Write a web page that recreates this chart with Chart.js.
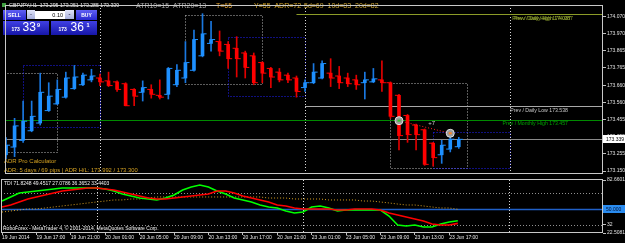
<!DOCTYPE html>
<html>
<head>
<meta charset="utf-8">
<title>GBPJPY,H1</title>
<script src="https://cdn.jsdelivr.net/npm/chart.js@4.4.1/dist/chart.umd.min.js"></script>
<style>
  body { margin: 0; background: #000; width: 625px; height: 243px; overflow: hidden; position: relative; }
  canvas { position: absolute; left: 0; }
  #priceChart { top: 0; }
  #tdiChart { top: 176px; }
</style>
</head>
<body>
<canvas id="priceChart" width="625" height="178"></canvas>
<canvas id="tdiChart" width="625" height="67"></canvas>
<script>
// H1 bars, index 0 = 19 Jun 13:00 ... index 53 = 23 Jun 18:00
var opens  = [173.247, 173.293, 173.333, 173.390, 173.436, 173.510, 173.550, 173.590, 173.641, 173.664,
              173.693, 173.704, 173.687, 173.681, 173.670, 173.636, 173.619, 173.636, 173.601, 173.607,
              173.664, 173.704, 173.750, 173.836, 173.910, 173.921, 173.904, 173.881, 173.853, 173.836,
              173.796, 173.761, 173.739, 173.721, 173.704, 173.647, 173.676, 173.704, 173.733, 173.716,
              173.704, 173.693, 173.676, 173.681, 173.693, 173.676, 173.601, 173.481, 173.424, 173.396,
              173.316, 173.247, 173.281, 173.295];
var highs  = [173.350, 173.464, 173.567, 173.567, 173.733, 173.676, 173.693, 173.739, 173.779, 173.733,
              173.756, 173.727, 173.739, 173.687, 173.676, 173.641, 173.687, 173.664, 173.693, 173.767,
              173.784, 173.921, 173.990, 174.087, 174.041, 173.984, 173.921, 173.950, 173.864, 173.853,
              173.801, 173.767, 173.761, 173.733, 173.716, 173.693, 173.790, 173.807, 173.819, 173.773,
              173.733, 173.721, 173.739, 173.761, 173.807, 173.681, 173.607, 173.487, 173.430, 173.401,
              173.321, 173.333, 173.379, 173.351];
var lows   = [173.224, 173.236, 173.321, 173.384, 173.424, 173.505, 173.545, 173.584, 173.636, 173.659,
              173.681, 173.659, 173.653, 173.624, 173.538, 173.539, 173.567, 173.584, 173.579, 173.579,
              173.653, 173.676, 173.745, 173.830, 173.864, 173.836, 173.761, 173.710, 173.704, 173.664,
              173.676, 173.647, 173.681, 173.676, 173.590, 173.624, 173.670, 173.699, 173.653, 173.641,
              173.653, 173.636, 173.579, 173.676, 173.624, 173.464, 173.276, 173.321, 173.276, 173.184,
              173.179, 173.196, 173.264, 173.285];
var closes = [173.304, 173.419, 173.447, 173.476, 173.619, 173.596, 173.636, 173.704, 173.710, 173.721,
              173.716, 173.681, 173.659, 173.636, 173.539, 173.596, 173.647, 173.607, 173.590, 173.761,
              173.750, 173.796, 173.933, 173.967, 173.933, 173.864, 173.819, 173.819, 173.767, 173.676,
              173.733, 173.710, 173.693, 173.693, 173.624, 173.676, 173.739, 173.790, 173.704, 173.676,
              173.670, 173.664, 173.693, 173.699, 173.676, 173.476, 173.361, 173.367, 173.367, 173.190,
              173.230, 173.304, 173.340, 173.339];

var timeTickBars   = [0, 4, 8, 12, 16, 20, 24, 28, 32, 36, 40, 44, 48, 52];
var timeTickLabels = ["19 Jun 2014", "19 Jun 17:00", "19 Jun 21:00", "20 Jun 01:00", "20 Jun 05:00",
                      "20 Jun 09:00", "20 Jun 13:00", "20 Jun 17:00", "20 Jun 21:00", "23 Jun 01:00",
                      "23 Jun 05:00", "23 Jun 09:00", "23 Jun 13:00", "23 Jun 17:00"];
var priceTicks = [174.070, 173.970, 173.865, 173.765, 173.660, 173.560, 173.455, 173.355, 173.255, 173.150];

// TDI sub window
var tdiPrice  = [58.8, 63.4, 67.9, 69.0, 70.2, 71.3, 72.5, 73.6, 73.6, 73.6,
                 73.6, 73.6, 72.5, 70.2, 66.8, 64.5, 62.2, 61.1, 60.0, 62.2,
                 65.6, 71.3, 74.7, 77.0, 74.7, 70.2, 66.8, 62.2, 60.0, 57.7,
                 54.3, 52.0, 50.9, 47.5, 45.2, 46.3, 52.0, 53.2, 50.9, 47.5,
                 48.6, 48.6, 48.6, 48.6, 48.6, 41.8, 31.6, 30.5, 31.6, 29.3,
                 29.3, 32.7, 35.0, 36.37];
var tdiSignal = [52.0, 54.3, 57.7, 61.1, 63.4, 65.6, 67.9, 70.2, 71.3, 72.5,
                 73.6, 73.6, 72.5, 71.3, 69.0, 66.8, 64.5, 62.2, 61.1, 61.1,
                 62.2, 63.4, 64.5, 65.6, 66.8, 70.2, 70.2, 67.9, 64.5, 62.2,
                 60.0, 57.7, 54.3, 53.2, 50.9, 49.8, 49.8, 49.8, 49.8, 48.6,
                 48.6, 49.8, 49.8, 49.8, 48.6, 45.2, 42.9, 40.7, 38.4, 36.1,
                 32.7, 31.6, 31.6, 33.44];
var tdiBase   = [46.3, 47.5, 48.6, 49.8, 49.8, 50.9, 52.0, 53.2, 54.3, 55.4,
                 56.6, 57.7, 58.8, 60.0, 60.0, 61.1, 61.1, 62.2, 63.4, 63.4,
                 63.4, 63.4, 63.4, 63.4, 63.4, 63.4, 63.4, 63.4, 63.4, 63.4,
                 63.4, 62.2, 62.2, 62.2, 61.1, 61.1, 61.1, 61.1, 60.0, 60.0,
                 60.0, 60.0, 58.8, 58.8, 57.7, 56.6, 55.4, 54.3, 54.3, 53.2,
                 52.0, 50.9, 50.9, 49.45];
var tdiLevels = [68, 50, 32];
var tdiTicks  = [82.6601, 32, 22.5081];

// objects on the chart
var daySeparators = [11, 35, 59];
var boxFrom   = [-3, 2, 21, 26, 45, 50];
var boxTo     = [6, 11, 30, 35, 54, 59];
var boxTop    = [173.733, 173.779, 174.081, 173.950, 173.676, 173.384];
var boxBottom = [173.264, 173.413, 173.670, 173.596, 173.167, 173.167];
var boxBlue   = [false, true, false, true, false, true];
var prevDailyHigh = 174.087, prevDailyLow = 173.538, prevMonthlyHigh = 173.457;
var tradeBars = [46, 52], tradePrices = [173.450, 173.375];

var X_MIN = -0.12, X_MAX = 69.88;
var FONT = '"Liberation Sans", Arial, sans-serif';
Chart.defaults.font.family = FONT;

function pts(arr, shift) {
  return arr.map(function (v, i) { return { x: i + (shift || 0), y: v }; });
}

var barColors = [], wickColors = [], wicks = [], bodies = [];
for (var i = 0; i < opens.length; i++) {
  var up = closes[i] >= opens[i];
  barColors.push(up ? '#1e90ff' : '#ff0000');
  wickColors.push(up ? '#1a78e0' : '#e00000');
  wicks.push({ x: i, y: [lows[i], highs[i]] });
  bodies.push({ x: i, y: [opens[i], closes[i]] });
}

function hline(ctx, x1, x2, y, color, dash, w) {
  ctx.save();
  ctx.strokeStyle = color; ctx.lineWidth = w || 1; ctx.setLineDash(dash || []);
  y = Math.round(y) + 0.5;
  ctx.beginPath(); ctx.moveTo(x1, y); ctx.lineTo(x2, y); ctx.stroke();
  ctx.restore();
}
function vline(ctx, x, y1, y2, color, dash) {
  ctx.save();
  ctx.strokeStyle = color; ctx.lineWidth = 1; ctx.setLineDash(dash || []);
  x = Math.round(x) + 0.5;
  ctx.beginPath(); ctx.moveTo(x, y1); ctx.lineTo(x, y2); ctx.stroke();
  ctx.restore();
}
function txt(ctx, s, x, y, color, font, align) {
  ctx.font = font; ctx.fillStyle = color;
  ctx.textAlign = align || 'left'; ctx.textBaseline = 'middle';
  ctx.fillText(s, x, y);
}
function grad(ctx, x, y, w, h, c1, c2) {
  var g = ctx.createLinearGradient(0, y, 0, y + h);
  g.addColorStop(0, c1); g.addColorStop(1, c2);
  ctx.fillStyle = g; ctx.fillRect(x, y, w, h);
}

var priceDecor = {
  id: 'priceDecor',
  beforeDatasetsDraw: function (chart) {
    var ctx = chart.ctx, xs = chart.scales.x, ys = chart.scales.y, a = chart.chartArea;
    ctx.save();
    ctx.beginPath(); ctx.rect(a.left, a.top, a.right - a.left, a.bottom - a.top); ctx.clip();
    // session boxes
    for (var b = 0; b < boxFrom.length; b++) {
      var x1 = Math.round(xs.getPixelForValue(boxFrom[b])) + 0.5;
      var x2 = Math.round(xs.getPixelForValue(boxTo[b])) + 0.5;
      var y1 = Math.round(ys.getPixelForValue(boxTop[b])) + 0.5;
      var y2 = Math.round(ys.getPixelForValue(boxBottom[b])) + 0.5;
      ctx.strokeStyle = boxBlue[b] ? '#2020ff' : '#b8b8b8';
      ctx.lineWidth = 1; ctx.setLineDash([1, 2]);
      ctx.strokeRect(x1, y1, x2 - x1, y2 - y1);
    }
    ctx.setLineDash([]);
    // day separators
    daySeparators.forEach(function (d) {
      vline(ctx, xs.getPixelForValue(d), a.top, a.bottom, '#d8d8d8', [1, 2]);
    });
    // levels
    hline(ctx, a.left, a.right, ys.getPixelForValue(prevMonthlyHigh), '#008a00');
    hline(ctx, xs.getPixelForValue(34), a.right, ys.getPixelForValue(prevDailyHigh), '#8c9c28');
    hline(ctx, xs.getPixelForValue(35), a.right, ys.getPixelForValue(prevDailyLow), '#a8a8a8');
    hline(ctx, a.left, a.right, ys.getPixelForValue(closes[closes.length - 1]), '#8a8a8a');
    ctx.restore();
  },
  afterDraw: function (chart) {
    var ctx = chart.ctx, xs = chart.scales.x, ys = chart.scales.y, a = chart.chartArea;
    ctx.save();
    // trade line + markers
    var tx1 = xs.getPixelForValue(tradeBars[0]), ty1 = ys.getPixelForValue(tradePrices[0]);
    var tx2 = xs.getPixelForValue(tradeBars[1]), ty2 = ys.getPixelForValue(tradePrices[1]);
    ctx.strokeStyle = '#ff2020'; ctx.setLineDash([1, 2]); ctx.lineWidth = 1;
    ctx.beginPath(); ctx.moveTo(tx1, ty1); ctx.lineTo(tx2, ty2); ctx.stroke();
    ctx.setLineDash([]);
    [[tx1, ty1, '#30c030'], [tx2, ty2, '#ff8020']].forEach(function (m) {
      ctx.fillStyle = '#9a9a9a'; ctx.beginPath(); ctx.arc(m[0], m[1], 4, 0, Math.PI * 2); ctx.fill();
      ctx.strokeStyle = '#e0e0e0'; ctx.lineWidth = 1; ctx.stroke();
      ctx.fillStyle = m[2]; ctx.fillRect(m[0] - 1.5, m[1] - 1, 3, 2);
    });
    txt(ctx, '+7', (tx1 + tx2) / 2 + 7, ty1 + 3, '#d0d0d0', '6px ' + FONT, 'center');

    // line labels
    var lf = '5.2px ' + FONT;
    txt(ctx, 'Prev / Daily High 174.087', 571, ys.getPixelForValue(prevDailyHigh) + 4.5, '#94a830', lf, 'right');
    txt(ctx, 'Prev / Daily High 174.087', 573, ys.getPixelForValue(prevDailyHigh) + 4.5, '#94a830', lf, 'right');
    txt(ctx, 'Prev / Daily Low 173.538', 568, ys.getPixelForValue(prevDailyLow) + 4.5, '#c8c8c8', lf, 'right');
    txt(ctx, 'Prev / Monthly High 173.457', 568, ys.getPixelForValue(prevMonthlyHigh) + 4.5, '#00a000', lf, 'right');

    // header
    txt(ctx, 'GBPJPY,H1  173.295 173.351 173.285 173.339', 9, 5.5, '#f0f0f0', '5.2px ' + FONT);
    ctx.fillStyle = '#40a040'; ctx.fillRect(2, 3, 4, 4);
    txt(ctx, 'ATR10=15  ATR20=13', 136, 6.5, '#a8a8a8', '7px ' + FONT);
    txt(ctx, 'T=65', 216, 6.5, '#e0a030', '7px ' + FONT);
    txt(ctx, 'Y=55  ADR=72', 254, 6.5, '#d8a828', '7px ' + FONT);
    txt(ctx, '5d=69  10d=83  20d=82', 304, 6.5, '#d0a838', '7px ' + FONT);

    // one click trading panel
    grad(ctx, 3, 10, 23, 10, '#6060f4', '#2828d0');
    grad(ctx, 27, 10, 8, 9, '#e0e4f8', '#a8b0dc');
    ctx.fillStyle = '#ffffff'; ctx.fillRect(35, 11, 30, 8);
    grad(ctx, 65, 10, 9, 9, '#e0e4f8', '#a8b0dc');
    grad(ctx, 76, 10, 21, 10, '#6060f4', '#2828d0');
    grad(ctx, 3, 21, 46, 14, '#4040e4', '#1616a8');
    grad(ctx, 51, 21, 46, 14, '#4040e4', '#1616a8');
    txt(ctx, 'SELL', 14.5, 15.2, '#ffffff', 'bold 5px ' + FONT, 'center');
    txt(ctx, 'BUY', 86.5, 15.2, '#ffffff', 'bold 5px ' + FONT, 'center');
    txt(ctx, '-', 31, 14.5, '#303050', 'bold 6px ' + FONT, 'center');
    txt(ctx, '-', 69.5, 14.5, '#303050', 'bold 6px ' + FONT, 'center');
    txt(ctx, '0.10', 63, 15, '#000000', '5.5px ' + FONT, 'right');
    txt(ctx, '173', 11.5, 30, '#ffffff', 'bold 5px ' + FONT);
    txt(ctx, '33', 22.5, 28, '#ffffff', '12px ' + FONT);
    txt(ctx, '9', 37, 25, '#ffffff', 'bold 5.5px ' + FONT);
    txt(ctx, '173', 58.5, 30, '#ffffff', 'bold 5px ' + FONT);
    txt(ctx, '36', 70.5, 28, '#ffffff', '12px ' + FONT);
    txt(ctx, '1', 86.5, 25, '#ffffff', 'bold 5.5px ' + FONT);

    // ADR calculator
    txt(ctx, 'ADR Pro Calculator', 4, 161.5, '#d4a020', '6px ' + FONT);
    txt(ctx, 'ADR: 5 days / 69 pips | ADR H/L: 173.992 / 173.300', 4, 170, '#d4a020', '5.8px ' + FONT);

    // current price box on the axis
    var py = Math.round(ys.getPixelForValue(closes[closes.length - 1]));
    ctx.fillStyle = '#ffffff'; ctx.fillRect(a.right, py - 4, 22, 8);
    txt(ctx, closes[closes.length - 1].toFixed(3), a.right + 3, py + 0.5, '#000000', '5px ' + FONT);

    // frame
    ctx.strokeStyle = '#c8c8c8'; ctx.lineWidth = 1;
    ctx.strokeRect(a.left + 0.5, a.top + 0.5, a.right - a.left - 1, a.bottom - a.top);
    ctx.restore();
  }
};

new Chart(document.getElementById('priceChart'), {
  type: 'bar',
  data: {
    datasets: [
      { type: 'bar', data: wicks, backgroundColor: wickColors, barThickness: 1, grouped: false, order: 4 },
      { type: 'bar', data: bodies, backgroundColor: barColors, barThickness: 3, grouped: false, order: 3 },
      { type: 'scatter', data: pts(opens, -0.3), pointStyle: 'line', pointRadius: 1.5,
        pointBorderColor: barColors, pointBorderWidth: 1, order: 2 },
      { type: 'scatter', data: pts(closes, 0.3), pointStyle: 'line', pointRadius: 1.5,
        pointBorderColor: barColors, pointBorderWidth: 1, order: 1 }
    ]
  },
  options: {
    responsive: false, animation: false, events: [],
    layout: { padding: { left: 1, top: 2, bottom: 1, right: 0 } },
    plugins: { legend: { display: false }, tooltip: { enabled: false } },
    scales: {
      x: { type: 'linear', min: X_MIN, max: X_MAX, offset: false, display: false },
      y: {
        position: 'right', min: 173.1386, max: 174.1386,
        afterFit: function (s) { s.width = 22; },
        afterBuildTicks: function (s) { s.ticks = priceTicks.map(function (v) { return { value: v }; }); },
        border: { display: false },
        grid: { drawOnChartArea: false, drawTicks: true, tickLength: 3, color: '#c0c0c0' },
        ticks: { autoSkip: false, padding: 1, color: '#e0e0e0', font: { size: 5 },
                 callback: function (v) { return v.toFixed(3); } }
      }
    }
  },
  plugins: [priceDecor]
});

var tdiDecor = {
  id: 'tdiDecor',
  beforeDatasetsDraw: function (chart) {
    var ctx = chart.ctx, xs = chart.scales.x, ys = chart.scales.y, a = chart.chartArea;
    tdiLevels.forEach(function (lv) {
      if (lv === 50) hline(ctx, a.left, a.right, ys.getPixelForValue(lv), '#2060c8', [], 1.5);
      else hline(ctx, a.left, a.right, ys.getPixelForValue(lv), '#909090', [1, 2]);
    });
    daySeparators.forEach(function (d) {
      vline(ctx, xs.getPixelForValue(d), a.top, a.bottom, '#d8d8d8', [1, 2]);
    });
  },
  afterDraw: function (chart) {
    var ctx = chart.ctx, ys = chart.scales.y, a = chart.chartArea;
    ctx.save();
    txt(ctx, 'TDI 71.8248 49.4517 27.0786 36.3652 33.4403', 4, a.top + 3.5, '#f0f0f0', '5px ' + FONT);
    txt(ctx, 'RoboForex - MetaTrader 4, \u00a9 2001-2014, MetaQuotes Software Corp.', 3, a.bottom - 4, '#f0f0f0', '5px ' + FONT);
    var py = Math.round(ys.getPixelForValue(50));
    ctx.fillStyle = '#2a8cf0'; ctx.fillRect(a.right, py - 4, 22, 8);
    txt(ctx, '50.000', a.right + 3, py + 0.5, '#001030', '5px ' + FONT);
    ctx.strokeStyle = '#c8c8c8'; ctx.lineWidth = 1;
    ctx.strokeRect(a.left + 0.5, a.top - 0.5, a.right - a.left - 1, a.bottom - a.top);
    ctx.restore();
  }
};

new Chart(document.getElementById('tdiChart'), {
  type: 'line',
  data: {
    datasets: [
      { data: pts(tdiBase), borderColor: '#d8a020', borderWidth: 1, borderDash: [1, 2], pointRadius: 0, order: 3 },
      { data: pts(tdiPrice), borderColor: '#00ff00', borderWidth: 1.6, pointRadius: 0, order: 2 },
      { data: pts(tdiSignal), borderColor: '#ff0000', borderWidth: 1.6, pointRadius: 0, order: 1 }
    ]
  },
  options: {
    responsive: false, animation: false, events: [],
    layout: { padding: { left: 1, top: 4, bottom: 0, right: 0 } },
    plugins: { legend: { display: false }, tooltip: { enabled: false } },
    scales: {
      x: {
        type: 'linear', min: X_MIN, max: X_MAX, offset: false,
        afterFit: function (s) { s.height = 10; },
        afterBuildTicks: function (s) { s.ticks = timeTickBars.map(function (v) { return { value: v }; }); },
        border: { display: false },
        grid: { drawOnChartArea: false, drawTicks: true, tickLength: 2, color: '#c0c0c0' },
        ticks: { autoSkip: false, maxRotation: 0, minRotation: 0, align: 'start', padding: 0,
                 color: '#e8e8e8', font: { size: 5 },
                 callback: function (v, idx) { return timeTickLabels[idx]; } }
      },
      y: {
        position: 'right', min: 22.5081, max: 82.6601,
        afterFit: function (s) { s.width = 22; },
        afterBuildTicks: function (s) { s.ticks = tdiTicks.map(function (v) { return { value: v }; }); },
        border: { display: false },
        grid: { drawOnChartArea: false, drawTicks: true, tickLength: 3, color: '#c0c0c0' },
        ticks: { autoSkip: false, padding: 1, color: '#e0e0e0', font: { size: 5 },
                 callback: function (v) { return v === 32 ? '32' : v.toFixed(4); } }
      }
    }
  },
  plugins: [tdiDecor]
});
</script>
</body>
</html>
